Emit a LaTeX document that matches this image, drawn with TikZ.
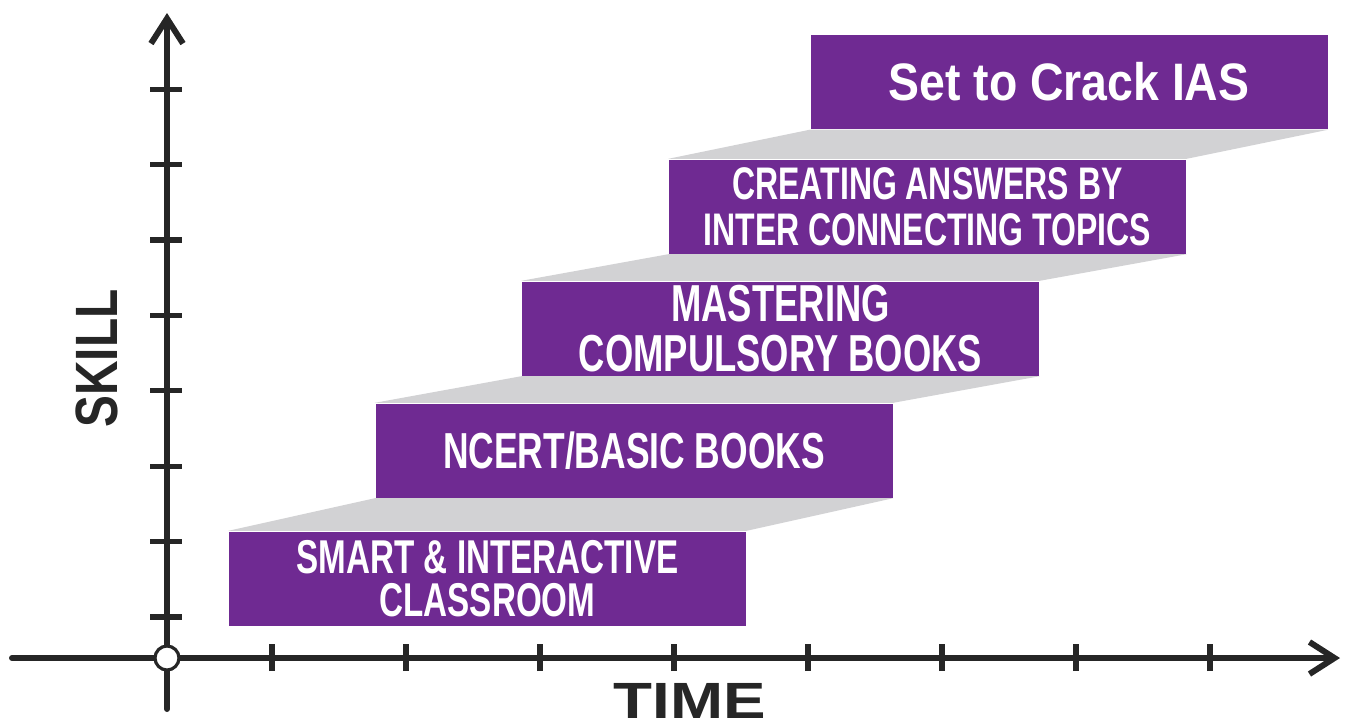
\documentclass[tikz,border=0pt]{standalone}
\usepackage{fontspec}
\setmainfont{Liberation Sans}
\newfontfamily\stepfont{Liberation Sans}[FakeStretch=0.7]
\newfontfamily\goalfont{Liberation Sans}[FakeStretch=0.88]
\newfontfamily\skillfont{Liberation Sans}[FakeStretch=0.8]
\newfontfamily\timefont{Liberation Sans}[FakeStretch=1.25]
\usetikzlibrary{arrows.meta,positioning}
\definecolor{axisdark}{HTML}{262626}
\definecolor{steppurple}{HTML}{6F2A92}
\definecolor{stepgray}{HTML}{D2D2D4}
\tikzset{
  stepbox/.style={fill=steppurple,text=white,minimum width=5.17cm,minimum height=0.94cm,inner sep=0pt,align=center},
  axisline/.style={draw=axisdark,line width=1.7pt,line cap=round},
  tickmark/.style={draw=axisdark,line width=1.5pt},
}
\newcommand{\skillstep}[4]{
  \node[stepbox,font=#3] (#1) at #2 {#4};
}

\begin{document}
\begin{tikzpicture}[>={Straight Barb[length=2.5mm,width=3.2mm]}]
  \useasboundingbox (0,0) rectangle (13.48,7.26);
  % axes
  \coordinate (xstart) at (0.12,0.68);
  \coordinate (xend) at (13.40,0.68);
  \coordinate (ystart) at (1.67,0.17);
  \coordinate (yend) at (1.67,7.13);
  \draw[axisline,->] (xstart) -- (xend);
  \draw[axisline,->] (ystart) -- (yend);
  \foreach \k in {0,...,7} {
    \draw[tickmark] (1.50,{1.09+0.754*\k}) -- (1.82,{1.09+0.754*\k});
    \draw[tickmark] ({2.72+1.34*\k},0.55) -- ({2.72+1.34*\k},0.82);
  }
  \node[circle,draw=axisdark,fill=white,line width=0.9pt,minimum size=0.24cm,inner sep=0pt] (origin) at (1.67,0.68) {};
  % steps
  \skillstep{s1}{(4.875,1.475)}{\stepfont\bfseries\fontsize{13.5}{12.3}\selectfont}{SMART \& INTERACTIVE\\CLASSROOM}
  \skillstep{s2}{(6.34,2.755)}{\stepfont\bfseries\fontsize{14.4}{17}\selectfont}{NCERT/BASIC BOOKS}
  \skillstep{s3}{(7.805,3.975)}{\stepfont\bfseries\fontsize{14.8}{14}\selectfont}{MASTERING\\COMPULSORY BOOKS}
  \skillstep{s4}{(9.275,5.195)}{\stepfont\bfseries\fontsize{13}{13}\selectfont}{CREATING ANSWERS BY\\INTER CONNECTING TOPICS}
  \skillstep{s5}{(10.69,6.44)}{\goalfont\bfseries\fontsize{15}{18}\selectfont}{Set to Crack IAS}
  \foreach \lo/\hi in {s1/s2,s2/s3,s3/s4,s4/s5}
    \fill[stepgray] (\lo.north west) -- (\lo.north east) -- (\hi.south east) -- (\hi.south west) -- cycle;
  % labels
  \node[text=axisdark,inner sep=0pt,rotate=90,font=\skillfont\bfseries\fontsize{17}{20}\selectfont] (skill) at (0.965,3.675) {SKILL};
  \node[text=axisdark,inner sep=0pt,anchor=north,font=\timefont\bfseries\fontsize{14.5}{17}\selectfont] (time) at (6.9,0.43) {TIME};
\end{tikzpicture}
\end{document}
